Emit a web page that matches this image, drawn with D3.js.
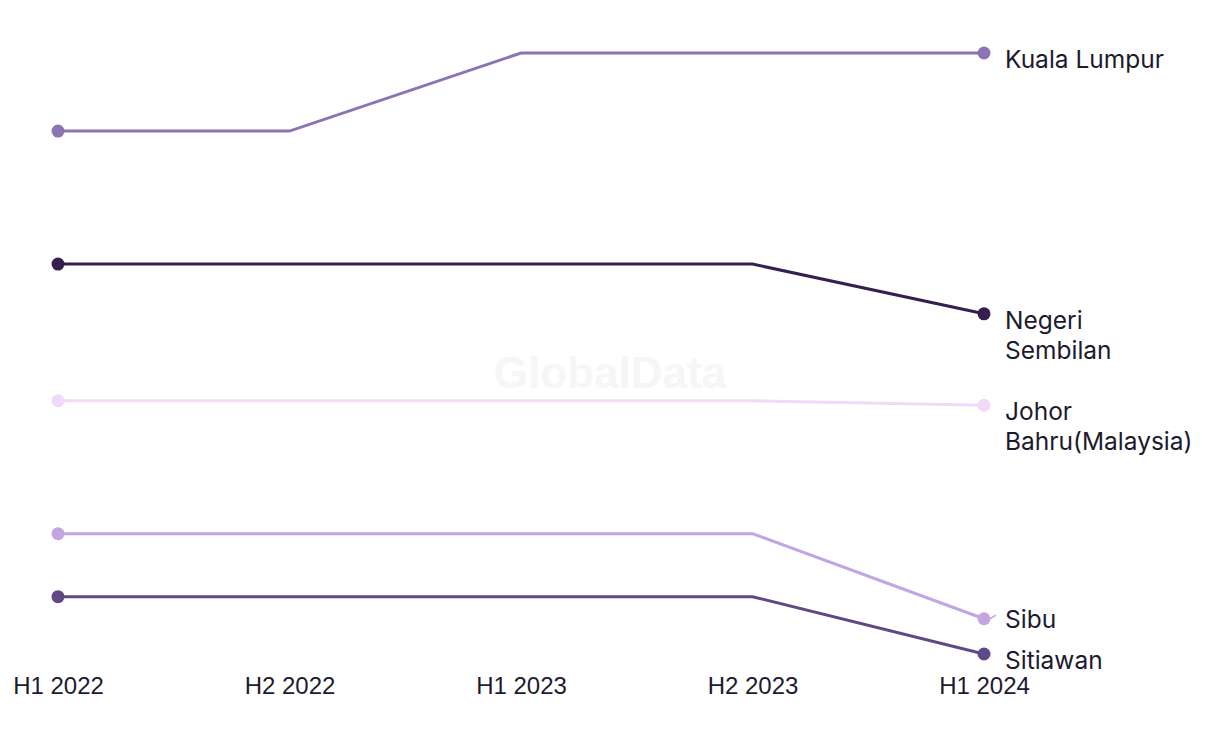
<!DOCTYPE html>
<html><head><meta charset="utf-8">
<script src="https://cdn.jsdelivr.net/npm/d3@7"></script>
<style>html,body{margin:0;padding:0;background:#fff;}svg{display:block;}</style>
</head><body>
<svg id="chart" width="1220" height="744"></svg>
<script>
const periods = ["H1 2022", "H2 2022", "H1 2023", "H2 2023", "H1 2024"];
const seriesNames = ["Kuala Lumpur", "Negeri Sembilan", "Johor Bahru(Malaysia)", "Sibu", "Sitiawan"];
const labelLines = [["Kuala Lumpur"], ["Negeri", "Sembilan"], ["Johor", "Bahru(Malaysia)"], ["Sibu"], ["Sitiawan"]];
const kualaLumpur = [8.76, 8.76, 10.0, 10.0, 10.0];
const negeriSembilan = [6.65, 6.65, 6.65, 6.65, 5.86];
const johorBahru = [4.48, 4.48, 4.48, 4.48, 4.41];
const sibu = [2.37, 2.37, 2.37, 2.37, 1.02];
const sitiawan = [1.37, 1.37, 1.37, 1.37, 0.46];
const colors = ["#8c74b4", "#33204f", "#f1d9f9", "#c2a6e2", "#5f4885"];

const allValues = [kualaLumpur, negeriSembilan, johorBahru, sibu, sitiawan];
const data = seriesNames.map((n, i) => ({name: n, lines: labelLines[i], color: colors[i],
  values: allValues[i].map((v, j) => ({p: periods[j], v}))}));

const svg = d3.select("#chart");
const x = d3.scalePoint().domain(periods).range([58, 984]);
const y = d3.scaleLinear().domain([0, 10]).range([683, 53]);

// watermark
svg.append("text").attr("x", 610).attr("y", 388).attr("text-anchor", "middle")
  .attr("font-family", "Liberation Sans, Arial, sans-serif").attr("font-weight", "bold")
  .attr("font-size", 44).attr("fill", "#f6f6f6").text("GlobalData");

const line = d3.line().x(d => x(d.p)).y(d => y(d.v));
const g = svg.append("g");
data.forEach(s => {
  g.append("path").attr("d", line(s.values)).attr("fill", "none")
    .attr("stroke", s.color).attr("stroke-width", 3);
  const first = s.values[0], last = s.values[s.values.length - 1];
  [first, last].forEach(d => g.append("circle").attr("cx", x(d.p)).attr("cy", y(d.v)).attr("r", 6.5).attr("fill", s.color));
});

// labels with simple collision avoidance (bottom-up)
const labels = data.map(s => ({s, dotY: y(s.values[s.values.length - 1].v)}));
labels.forEach(l => { l.want = l.dotY + 15; l.y = l.want; });
for (let i = labels.length - 2; i >= 0; i--) {
  const below = labels[i + 1];
  const h = (labels[i].s.lines.length - 1) * 30 + 41;
  if (below.y - labels[i].y < h) labels[i].y = below.y - h;
}
labels.forEach(l => {
  const t = svg.append("text").attr("x", 1005).attr("y", l.y)
    .attr("font-family", "Inter, Liberation Sans, sans-serif").attr("font-size", 24.5).attr("fill", "#1d1a2e");
  l.s.lines.forEach((ln, k) => t.append("tspan").attr("x", 1005).attr("dy", k === 0 ? 0 : 30).text(ln));
  if (Math.abs(l.y - l.want) > 1) {
    svg.append("line").attr("x1", x(periods[4]) + 6).attr("y1", l.dotY)
      .attr("x2", 996).attr("y2", l.y - 13)
      .attr("stroke", l.s.color).attr("stroke-width", 1.5);
  }
});

// x axis labels
const axis = d3.axisBottom(x).tickSize(0).tickPadding(0);
const ax = svg.append("g").attr("transform", "translate(0,694)").call(axis);
ax.select(".domain").remove();
ax.selectAll("text").attr("font-family", "Liberation Sans, Arial, sans-serif").attr("font-size", 24)
  .attr("fill", "#1d1a2e").attr("dy", 0);
</script>
</body></html>
